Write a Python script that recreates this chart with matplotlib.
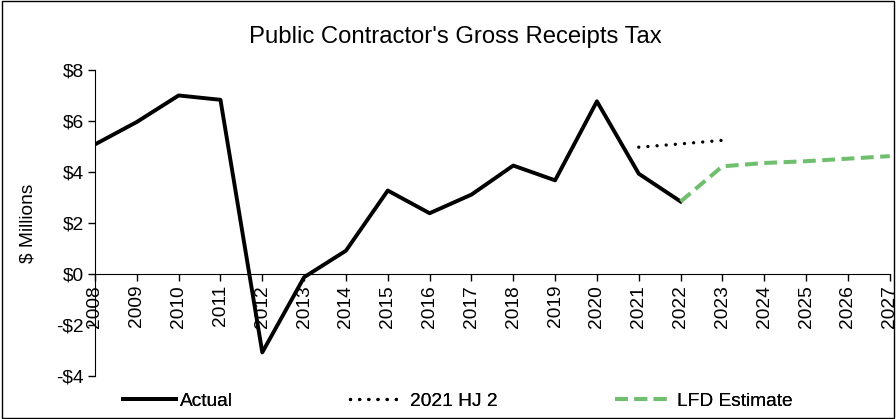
import matplotlib
matplotlib.use("Agg")
import matplotlib.pyplot as plt
from matplotlib.patches import Rectangle
from matplotlib.ticker import FuncFormatter

plt.rcParams['font.family'] = ['Liberation Sans', 'DejaVu Sans']

# data ($ millions)
actual_years = [2008, 2009, 2010, 2011, 2012, 2013, 2014, 2015, 2016, 2017, 2018, 2019, 2020, 2021, 2022]
actual_vals = [5.08, 5.96, 7.0, 6.83, -3.08, -0.13, 0.91, 3.27, 2.38, 3.11, 4.25, 3.67, 6.77, 3.93, 2.84]

hj2_years = [2021, 2022, 2023]
hj2_vals = [4.97, 5.10, 5.24]

lfd_years = [2022, 2023, 2024, 2025, 2026, 2027]
lfd_vals = [2.84, 4.22, 4.35, 4.42, 4.52, 4.62]

year_ticks = list(range(2008, 2028))
y_ticks = [-4, -2, 0, 2, 4, 6, 8]

FS = 13.8

fig = plt.figure(figsize=(8.96, 4.19), dpi=100)
ax = fig.add_axes([0.106, 0.103, 0.887, 0.730])

# move bottom spine first, it resets the tick objects
for s in ['top', 'right']:
    ax.spines[s].set_visible(False)
ax.spines['bottom'].set_position(('data', 0))

l_act, = ax.plot(actual_years, actual_vals, color='black', lw=2.8, label='Actual')
l_hj2, = ax.plot(hj2_years, hj2_vals, color='black', lw=2.4, ls=(0, (0.01, 2.74)), label='2021 HJ 2',
                 dash_capstyle='round')
l_lfd, = ax.plot(lfd_years, lfd_vals, color='#70BF6E', lw=2.9, ls=(0, (3.2, 1.6)), label='LFD Estimate')

ax.set_xlim(2008, 2027)
ax.set_ylim(-4, 8)
ax.set_xticks(year_ticks)
ax.set_xticklabels([str(y) for y in year_ticks])
ax.set_yticks(y_ticks)
ax.yaxis.set_major_formatter(FuncFormatter(lambda v, p: f"-${abs(v):.0f}" if v < 0 else f"${v:.0f}"))
ax.tick_params(axis='y', labelsize=FS, length=5, width=1, direction='out', pad=3)
ax.tick_params(axis='x', labelsize=FS, labelrotation=90, length=5, width=1, direction='out', pad=3)
for lab in ax.get_xticklabels():
    lab.set_va('top')

ax.set_ylabel('$ Millions', fontsize=FS, labelpad=14)
fig.text(0.508, 0.911, "Public Contractor's Gross Receipts Tax", ha='center', va='center', fontsize=17.2)

# three legend entries placed where the reference has them
for line, x0, pad in [(l_act, 123, 0.2), (l_hj2, 350, 0.4), (l_lfd, 615, 0.5)]:
    leg = fig.legend([line], [line.get_label()], loc='center left', bbox_to_anchor=(x0 / 896, 1 - 401 / 419),
                     frameon=False, fontsize=FS, handlelength=2.75, handletextpad=pad,
                     borderpad=0, borderaxespad=0)
    fig.add_artist(leg)

fig.patches.append(Rectangle((0.002, 0.003), 0.996, 0.994, transform=fig.transFigure,
                             fill=False, edgecolor='black', lw=1.0))

fig.savefig('out.png', dpi=100)
